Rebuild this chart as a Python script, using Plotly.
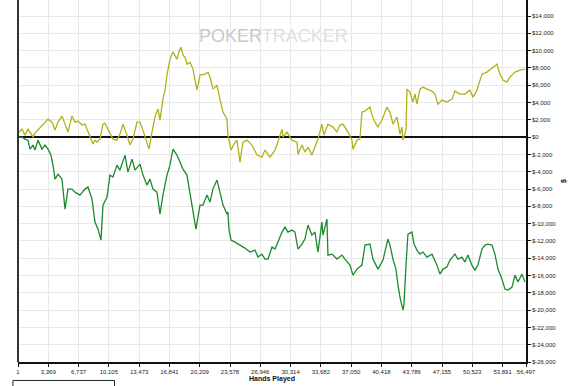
import plotly.graph_objects as go

# ---- data ----
hands_a = [1, 445, 780, 1110, 1330, 1670, 1890, 2220, 2670, 3000, 3340, 3780, 4120, 4450, 4890, 5230,
           5560, 6000, 6340, 6670, 7120, 7450, 7670, 8010, 8340, 8560, 8790, 9120, 9450, 9670, 9900,
           10230, 10560, 11010, 11340, 11680, 11900, 12120, 12450, 12790, 13230, 13570, 13900, 14340,
           14570, 14900, 15230, 15570, 15790, 16120, 16350, 16570, 16900, 17240, 17460, 17680, 17900,
           18130, 18350, 18570, 18790, 19130, 19460, 19680, 19900, 20240, 20790, 21130, 21350, 21680,
           22130, 22460, 22800, 23240, 23350, 23690, 24020, 24350, 24690, 25020, 25460, 26020, 26580,
           27130, 27470, 28020, 28580, 28910, 29360, 29470, 29910, 30470, 31020, 31140, 31580, 31910,
           32250, 32690, 33030, 33360, 33800, 34030, 34470, 35030, 35470, 35810, 36140, 36700, 37140,
           37250, 37700, 38030, 38250, 38590, 39140, 39370, 39700, 40030, 40480, 41030, 41370, 41700,
           42140, 42480, 42700, 42810, 43150, 43260, 43590, 43920, 44150, 44370, 44700, 45040, 45480,
           46040, 46370, 46700, 47150, 47700, 48260, 48590, 49150, 49710, 50260, 50600, 51040, 51600,
           52150, 52490, 53040, 53270, 53600, 53930, 54380, 54710, 55270, 55820, 56380]
profit_a = [460, 920, 230, 920, 580, 0, 460, 810, 1270, 1730, 2080, 1730, 810, 1730, 2430, 1500,
            580, 2430, 1730, 1850, 1390, 1500, 920, 0, -810, -350, -580, -230, 1500, 1620, 1160,
            350, -230, -350, 350, 1500, 920, 230, -920, -230, 1730, 1730, 810, -580,
            -1390, 580, 2310, 3240, 1970, 4390, 5430, 7170, 9020, 9830, 9480, 9020, 9830,
            10400, 9480, 9250, 8440, 8670, 7860, 6590, 5430, 7170, 7280, 7510, 6940, 5550,
            6010, 4390, 2890, 2080, 230, -1500, -810, -350, -2890, -580, -350, -920, -2080,
            -2310, -1500, -2310, -1500, -580, 920, 0, 580, -350, -580, -1970, -920, -1730,
            -1160, -2080, -1160, -230, 1500, 230, 1500, 1160, 580, 1390, 1500, 580, -350,
            -1390, -350, -230, 2890, 3010, 3470, 2540, 1730, 1160, 1970, 3470, 2890, 1500,
            2310, 350, 1160, -350, 810, 5550, 5200, 4050, 4970, 3810, 5550, 5780, 5550,
            5320, 4970, 3810, 4280, 4050, 4390, 5320, 4970, 4970, 5430, 4620, 5430, 7280,
            7510, 7740, 8210, 8440, 7280, 6590, 6360, 6940, 7510, 7740, 7860]

hands_b = [1, 445, 780, 1110, 1330, 1670, 1890, 2220, 2670, 3000, 3340, 3670, 3890, 4120, 4450, 4890,
           5230, 5560, 6000, 6340, 6890, 7450, 7780, 8230, 8560, 8900, 9230, 9450, 9900, 10230, 10560,
           11010, 11340, 11900, 12230, 12680, 13010, 13570, 13900, 14340, 14680, 15010, 15460, 15790,
           16120, 16570, 16900, 17240, 17680, 18010, 18350, 18790, 19130, 19460, 19790, 20240, 20570,
           21020, 21350, 21680, 22130, 22460, 22800, 23240, 23350, 23460, 23690, 24130, 24690, 25240,
           25800, 26350, 26690, 27130, 27470, 27800, 28250, 28580, 28910, 29360, 29690, 30020, 30470,
           30800, 31140, 31580, 31910, 32250, 32690, 33030, 33360, 33800, 33920, 34360, 34470, 34920,
           35470, 36030, 36360, 36920, 37250, 37700, 38250, 38590, 39140, 39480, 40030, 40590, 41140,
           41370, 41700, 42030, 42260, 42480, 42810, 42920, 43150, 43370, 43810, 44040, 44370, 44700,
           45040, 45480, 46040, 46590, 46930, 47260, 47700, 48040, 48590, 48930, 49370, 49710, 50040,
           50480, 50820, 51150, 51600, 51930, 52260, 52710, 53040, 53380, 53820, 54160, 54490, 54940,
           55270, 55600, 56050, 56380]
profit_b = [0, 0, -230, -350, -1390, -920, -1500, -350, -1390, -920, -1390, -2080, -3240, -4860, -4280, -4860,
            -8320, -6010, -6010, -6360, -6700, -6010, -5780, -7170, -9830, -10640, -11910, -7860, -6940, -4390, -4620,
            -3240, -3810, -2080, -4050, -2540, -3810, -3120, -4390, -5550, -4860, -6010, -6360, -8900,
            -6700, -4390, -3240, -1390, -2080, -2890, -3700, -4390, -6360, -8670, -10640, -7860, -7860,
            -6700, -7510, -6010, -4970, -6360, -7860, -8900, -8670, -10640, -11910, -12140, -12480, -12830,
            -13290, -13060, -13870, -13530, -14100, -14100, -12720, -12950, -12140, -10980, -10400, -10980, -10750,
            -10980, -12950, -12370, -11790, -10170, -11330, -10980, -13290, -9830, -11330, -9480, -13640, -13530,
            -14100, -13640, -14100, -14800, -15950, -15260, -14800, -12480, -12370, -14100, -15260, -14220, -11790,
            -12480, -14100, -15260, -17110, -18500, -20000, -19420, -14800, -11210, -10980, -12370, -13060, -13530,
            -13290, -13870, -13530, -14800, -15840, -15260, -15030, -14220, -13530, -14100, -13870, -14450, -13640,
            -14800, -15380, -14800, -12950, -12480, -12370, -12480, -13530, -15260, -16420, -17570, -17690, -17340,
            -15950, -16760, -15840, -16760]

x_ticks = [1, 3369, 6737, 10105, 13473, 16841, 20209, 23578, 26946, 30314, 33682, 37050, 40418,
           43786, 47155, 50523, 53891, 56497]
y_ticks = list(range(-26000, 15000, 2000))


def money(v):
    return "$" + ("-" if v < 0 else "") + f"{abs(v):,}"


fig = go.Figure()
fig.add_trace(go.Scatter(x=hands_a, y=profit_a, mode="lines",
                         line=dict(color="#b3b01c", width=1.3), showlegend=False))
fig.add_trace(go.Scatter(x=hands_b, y=profit_b, mode="lines",
                         line=dict(color="#1c8a2c", width=1.3), showlegend=False))

tickfont = dict(family="Liberation Sans, Arial, sans-serif", size=6, color="#222")

fig.update_layout(
    width=578, height=386,
    margin=dict(l=18, r=52, t=0, b=24),
    paper_bgcolor="white", plot_bgcolor="white",
    xaxis=dict(range=[1, 56497], tickvals=x_ticks, ticktext=[f"{v:,}" for v in x_ticks],
               tickangle=0, automargin=False,
               showgrid=True, gridcolor="#e8e8e8", gridwidth=1, zeroline=False,
               showline=True, linecolor="#111", linewidth=1.5,
               ticks="outside", ticklen=3, tickcolor="#111", tickfont=tickfont,
               title=dict(text="<b>Hands Played</b>", font=dict(family="Liberation Sans, Arial, sans-serif",
                                                                size=7, color="#111"), standoff=1)),
    yaxis=dict(range=[-26000, 15850], side="right", tickvals=y_ticks, automargin=False,
               ticktext=[money(v) for v in y_ticks],
               showgrid=True, gridcolor="#e8e8e8", gridwidth=1,
               zeroline=True, zerolinecolor="#111", zerolinewidth=1.6,
               showline=True, linecolor="#111", linewidth=1.5, mirror=False,
               ticks="outside", ticklen=3, tickcolor="#111", tickfont=tickfont,
               title=dict(text="<b>$</b>", font=dict(family="Liberation Sans, Arial, sans-serif",
                                                     size=7, color="#111"), standoff=6)),
)

# left frame line of the plot
fig.add_shape(type="line", xref="paper", yref="paper", x0=0, x1=0, y0=0, y1=1,
              line=dict(color="#333", width=2))
# legend box peeking in at the bottom
fig.add_shape(type="rect", xref="paper", yref="paper", x0=-0.01, x1=0.19, y0=-0.051, y1=-0.09,
              line=dict(color="#222", width=1), fillcolor="white")

# watermark
fig.add_annotation(xref="paper", yref="paper", x=0.503, y=0.935, showarrow=False,
                   text="<span style='color:#c8c8c8'>POKER</span><span style='color:#e0e0e0'>TRACKER</span>",
                   font=dict(family="Liberation Sans, Arial, sans-serif", size=18))

fig.write_html("out.html")
